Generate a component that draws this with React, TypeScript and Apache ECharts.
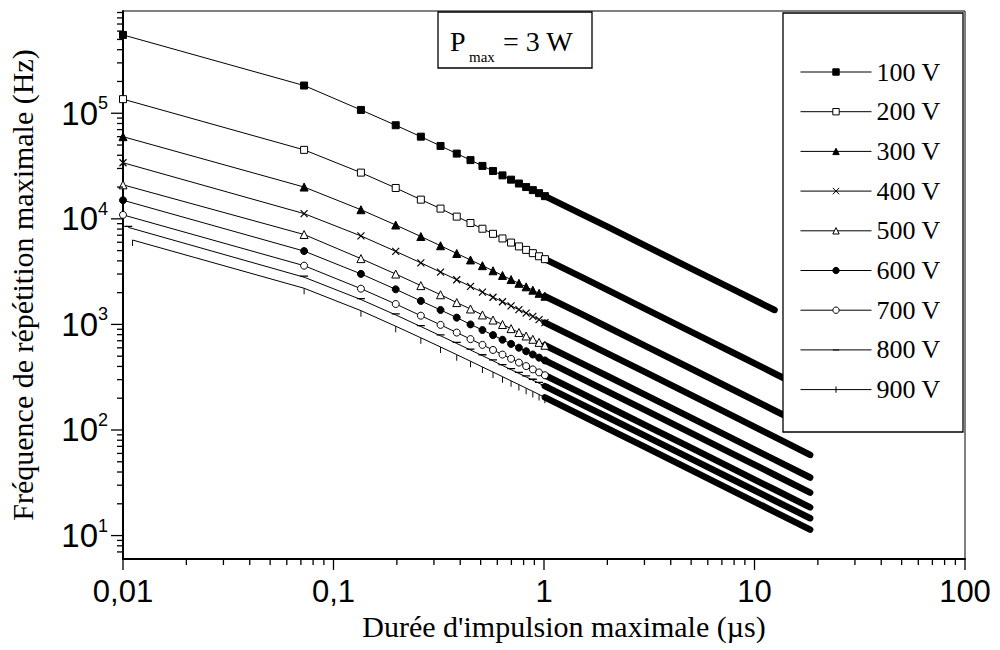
import React, { useEffect, useRef } from 'react';
import * as echarts from 'echarts';

// ---------- data ----------
const seriesNames = ['100 V', '200 V', '300 V', '400 V', '500 V', '600 V', '700 V', '800 V', '900 V'];

// pulse durations (µs) of the individually visible markers
const markerDurations = [0.01, 0.0725, 0.135, 0.1975, 0.26, 0.3225, 0.385, 0.4475, 0.51, 0.5725, 0.635, 0.6975, 0.76, 0.8225, 0.885, 0.9475, 1.01];
// first duration of each curve (800 V and 900 V start a little later)
const firstDurations = [0.01, 0.01, 0.01, 0.01, 0.01, 0.01, 0.01, 0.0106, 0.0111];
// durations along the dense (merged-marker) part of each curve
const tailDurations = [1.01, 1.51, 2.01, 3.01, 5.01, 8.01, 12.45, 18.385];

// maximal repetition frequency (Hz) at the marker durations
const f100 = [552000, 183000, 107500, 77000, 60000, 49000, 41500, 36000, 31700, 28400, 25800, 23500, 21600, 20000, 18700, 17500, 16400];
const f200 = [136000, 45000, 27400, 19600, 15200, 12500, 10500, 9130, 8060, 7210, 6520, 5960, 5480, 5080, 4730, 4420, 4150];
const f300 = [60000, 20000, 12200, 8740, 6800, 5560, 4700, 4080, 3600, 3220, 2910, 2660, 2450, 2270, 2110, 1970, 1850];
const f400 = [34000, 11200, 6890, 4920, 3830, 3130, 2650, 2290, 2020, 1810, 1640, 1500, 1380, 1280, 1190, 1110, 1040];
const f500 = [21000, 7100, 4200, 3000, 2330, 1910, 1610, 1400, 1230, 1100, 998, 912, 838, 777, 723, 676, 635];
const f600 = [15000, 4950, 3010, 2150, 1670, 1370, 1160, 1000, 885, 792, 716, 654, 602, 557, 519, 485, 456];
const f700 = [10900, 3600, 2180, 1560, 1210, 990, 837, 726, 640, 573, 518, 473, 435, 403, 375, 351, 330];
const f800 = [8300, 2800, 1720, 1230, 954, 780, 660, 572, 505, 452, 408, 373, 343, 318, 296, 277, 260];
const f900 = [6300, 2200, 1350, 961, 747, 611, 517, 448, 395, 354, 320, 292, 269, 249, 232, 217, 204];

// frequency (Hz) along the dense part (100 V stops at 12.45 µs)
const tail100 = [16400, 11100, 8400, 5600, 3380, 2120, 1370];
const tail200 = [4150, 2800, 2110, 1410, 851, 533, 343, 232];
const tail300 = [1850, 1250, 940, 630, 380, 238, 153, 104];
const tail400 = [1040, 702, 529, 355, 214, 134, 86, 58];
const tail500 = [635, 428, 323, 216, 130, 81.5, 52.5, 35.5];
const tail600 = [456, 307, 231, 155, 93.4, 58.5, 37.7, 25.5];
const tail700 = [330, 222, 167, 112, 67.6, 42.3, 27.3, 18.5];
const tail800 = [260, 175, 132, 88.4, 53.3, 33.4, 21.5, 14.6];
const tail900 = [204, 137, 103, 69.3, 41.7, 26.1, 16.8, 11.4];

// axis ticks / labels
const xTickValues = [0.01, 0.1, 1, 10, 100];
const xTickLabels = ['0,01', '0,1', '1', '10', '100'];
const yTickValues = [10, 100, 1000, 10000, 100000];
const yTickExponents = ['1', '2', '3', '4', '5'];
const X_MIN = 0.01;
const X_MAX = 100;
const Y_MIN = 6;
const Y_MAX = 930000;

const markerValues = [f100, f200, f300, f400, f500, f600, f700, f800, f900];
const tailValues = [tail100, tail200, tail300, tail400, tail500, tail600, tail700, tail800, tail900];

// ---------- styles ----------
const SERIF = "'Liberation Serif', 'Times New Roman', Times, serif";
const SANS = "'Liberation Sans', Arial, Helvetica, sans-serif";

const markerStyles: any[] = [
  { symbol: 'rect', size: 7, fill: '#000', border: '#000', bw: 1 },
  { symbol: 'rect', size: 7, fill: '#fff', border: '#000', bw: 1 },
  { symbol: 'triangle', size: 8, fill: '#000', border: '#000', bw: 1 },
  { symbol: 'path://M0,0L10,10M10,0L0,10', size: 7, fill: '#000', border: '#000', bw: 1.2 },
  { symbol: 'triangle', size: 8, fill: '#fff', border: '#000', bw: 1 },
  { symbol: 'circle', size: 7, fill: '#000', border: '#000', bw: 1 },
  { symbol: 'circle', size: 7, fill: '#fff', border: '#000', bw: 1 },
  { symbol: 'path://M0,0L0,0.01M0,4.2L10,4.2L10,5.8L0,5.8ZM10,9.99L10,10', size: 8, fill: '#000', border: 'rgba(0,0,0,0)', bw: 0, offset: [0, -1] },
  { symbol: 'path://M0,0L0.01,0M4.2,0L5.8,0L5.8,10L4.2,10ZM9.99,10L10,10', size: 6, fill: '#000', border: 'rgba(0,0,0,0)', bw: 0, offset: [0, 3] },
];

function isPow(v: number, t: number) {
  return Math.abs(Math.log10(v) - Math.log10(t)) < 1e-6;
}

// tick marks (major + minor), drawn through the axes' scales
const tickItems: number[][] = [];
yTickValues.forEach((v) => tickItems.push([X_MIN, v, 0, 12]));
xTickValues.forEach((v) => tickItems.push([v, Y_MIN, 1, 11]));
[1, 10, 100, 1000, 10000, 100000].forEach((d) => {
  for (let m = 2; m <= 9; m++) {
    const v = d * m;
    if (v > Y_MIN && v < Y_MAX) tickItems.push([X_MIN, v, 0, 6]);
  }
});
[0.01, 0.1, 1, 10].forEach((d) => {
  for (let m = 2; m <= 9; m++) tickItems.push([d * m, Y_MIN, 1, 6]);
});

function buildOption() {
  const series: any[] = [];
  seriesNames.forEach((name, s) => {
    const st = markerStyles[s];
    const tail = tailValues[s];
    series.push({
      type: 'line',
      name: name + ' (dense)',
      data: tail.map((v, i) => [tailDurations[i], v]),
      symbol: 'none',
      lineStyle: { color: '#000', width: 6.5, cap: 'round', join: 'round' },
      silent: true,
      z: 2,
    });
    series.push({
      type: 'line',
      name,
      data: markerValues[s].map((v, i) => [i === 0 ? firstDurations[s] : markerDurations[i], v]),
      symbol: st.symbol,
      symbolSize: st.size,
      symbolOffset: st.offset || [0, 0],
      showAllSymbol: true,
      lineStyle: { color: '#000', width: 1 },
      itemStyle: { color: st.fill, borderColor: st.border, borderWidth: st.bw },
      silent: true,
      z: 3,
    });
  });

  series.push({
    type: 'custom',
    name: 'ticks',
    silent: true,
    dimensions: ['x', 'y', 'kind', 'len'],
    encode: { x: 0, y: 1 },
    data: tickItems,
    z: 5,
    renderItem: (_p: any, api: any) => {
      const kind = api.value(2);
      const len = api.value(3);
      const pt = api.coord([api.value(0), api.value(1)]);
      const shape =
        kind === 0
          ? { x1: pt[0] - len, y1: pt[1], x2: pt[0], y2: pt[1] }
          : { x1: pt[0], y1: pt[1], x2: pt[0], y2: pt[1] + len };
      return { type: 'line', shape, style: { stroke: '#000', lineWidth: 1.3 } };
    },
  });

  return {
    animation: false,
    backgroundColor: '#fff',
    grid: {
      left: 123,
      right: 35,
      top: 11,
      bottom: 91,
      show: true,
      borderColor: '#000',
      borderWidth: 1,
      backgroundColor: 'transparent',
      containLabel: false,
      outerBoundsMode: 'none',
    },
    xAxis: {
      type: 'log',
      logBase: 10,
      min: X_MIN,
      max: X_MAX,
      name: "Durée d'impulsion maximale (µs)",
      nameLocation: 'middle',
      nameGap: 36,
      nameTextStyle: { fontFamily: SERIF, fontSize: 30, color: '#000', verticalAlign: 'top', padding: [0, 0, 0, 40] },
      axisLine: { show: true, onZero: false, lineStyle: { color: '#000', width: 2 } },
      axisTick: { show: false },
      splitLine: { show: false },
      axisLabel: {
        margin: 17,
        color: '#000',
        fontFamily: SANS,
        fontSize: 31,
        formatter: (v: number) => {
          const i = xTickValues.findIndex((t) => isPow(v, t));
          return i >= 0 ? xTickLabels[i] : '';
        },
      },
    },
    yAxis: {
      type: 'log',
      logBase: 10,
      min: Y_MIN,
      max: Y_MAX,
      name: 'Fréquence de répétition maximale (Hz)',
      nameLocation: 'middle',
      nameGap: 86,
      nameRotate: 90,
      nameTextStyle: { fontFamily: SERIF, fontSize: 30, color: '#000' },
      axisLine: { show: true, onZero: false, lineStyle: { color: '#000', width: 2 } },
      axisTick: { show: false },
      splitLine: { show: false },
      axisLabel: {
        margin: 15,
        color: '#000',
        formatter: (v: number) => {
          const i = yTickValues.findIndex((t) => isPow(v, t));
          return i >= 0 ? '{b|10}{e|' + yTickExponents[i] + '}' : '';
        },
        rich: {
          b: { fontFamily: SANS, fontSize: 33, color: '#000', lineHeight: 38 },
          e: { fontFamily: SANS, fontSize: 18, color: '#000', lineHeight: 19, verticalAlign: 'top' },
        },
      },
    },
    legend: {
      data: seriesNames,
      orient: 'vertical',
      left: 800,
      top: 59,
      padding: 0,
      itemWidth: 71,
      itemHeight: 8,
      itemGap: 13.7,
      selectedMode: false,
      z: 120,
      itemStyle: { borderWidth: 1 },
      lineStyle: { width: 1 },
      textStyle: { fontFamily: SERIF, fontSize: 26, color: '#000', lineHeight: 24 },
    },
    graphic: [
      {
        type: 'rect',
        z: 100,
        shape: { x: 783, y: 13, width: 180, height: 419 },
        style: { fill: '#fff', stroke: '#000', lineWidth: 1.3 },
      },
      {
        type: 'rect',
        z: 100,
        shape: { x: 438, y: 12, width: 154, height: 56 },
        style: { fill: '#fff', stroke: '#000', lineWidth: 1.3 },
      },
      {
        type: 'text',
        z: 101,
        x: 450,
        y: 41.5,
        style: { text: 'P', fontFamily: SERIF, fontSize: 28, fill: '#000', verticalAlign: 'middle', align: 'left' },
      },
      {
        type: 'text',
        z: 101,
        x: 469,
        y: 57,
        style: { text: 'max', fontFamily: SERIF, fontSize: 15, fill: '#000', verticalAlign: 'middle', align: 'left' },
      },
      {
        type: 'text',
        z: 101,
        x: 503,
        y: 41.5,
        style: { text: '= 3 W', fontFamily: SERIF, fontSize: 28, fill: '#000', verticalAlign: 'middle', align: 'left' },
      },
    ],
    series,
  };
}

export default function App() {
  const ref = useRef<HTMLDivElement>(null);
  useEffect(() => {
    if (!ref.current) return;
    const chart = echarts.init(ref.current, null, { renderer: 'svg' });
    chart.setOption(buildOption() as any);
    return () => chart.dispose();
  }, []);
  return (
    <div
      ref={ref}
      style={{ position: 'absolute', left: 0, top: 0, width: 1000, height: 650, background: '#fff' }}
    />
  );
}
